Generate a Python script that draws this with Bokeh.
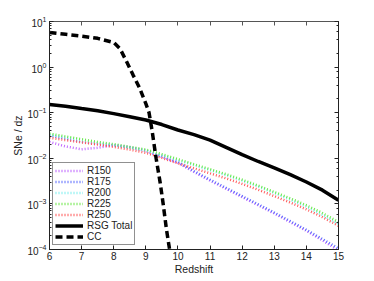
from bokeh.plotting import figure
from bokeh.models import (Range1d, LinearAxis, LogAxis, Legend, LegendItem, FixedTicker,
                          CustomJSTickFormatter)
from bokeh.embed import file_html
from bokeh.resources import INLINE

# ---- data ----
z_r = [6, 6.5, 7, 7.5, 8, 8.5, 9, 9.5, 10, 10.5, 11, 11.5, 12, 12.5, 13, 13.5, 14, 14.5, 15]
r150 = [0.0229, 0.0182, 0.0158, 0.0170, 0.0195, 0.0174, 0.0145, 0.0107, 0.00794, 0.00501,
        0.00324, 0.00214, 0.00141, 0.000933, 0.000617, 0.000398, 0.000257, 0.000158, 0.0000955]
r175 = [0.0316, 0.0269, 0.0229, 0.0209, 0.0195, 0.0174, 0.0148, 0.0112, 0.00832, 0.00525,
        0.00339, 0.00224, 0.00148, 0.000977, 0.000646, 0.000417, 0.000269, 0.000170, 0.000105]
r200 = [0.0331, 0.0288, 0.0251, 0.0219, 0.0195, 0.0170, 0.0148, 0.0117, 0.00912, 0.00708,
        0.00550, 0.00427, 0.00324, 0.00240, 0.00174, 0.00123, 0.000871, 0.000575, 0.000363]
r225 = [0.0347, 0.0302, 0.0263, 0.0229, 0.0204, 0.0178, 0.0155, 0.0123, 0.00955, 0.00741,
        0.00575, 0.00447, 0.00339, 0.00251, 0.00182, 0.00132, 0.000933, 0.000631, 0.000398]
r250 = [0.0282, 0.0251, 0.0224, 0.0200, 0.0178, 0.0155, 0.0132, 0.0102, 0.00776, 0.00603,
        0.00468, 0.00363, 0.00275, 0.00204, 0.00148, 0.00107, 0.000759, 0.000513, 0.000331]

z_rsg = [6, 6.5, 7, 7.5, 8, 8.5, 9, 9.5, 10, 10.5, 11, 11.5, 12, 12.5, 13, 13.5, 14, 14.5, 15]
rsg_total = [0.151, 0.138, 0.123, 0.110, 0.0955, 0.0813, 0.0692, 0.055, 0.0417, 0.0331,
             0.0251, 0.0174, 0.0120, 0.00851, 0.00617, 0.00437, 0.00302, 0.0020, 0.0012]

z_cc = [6, 6.5, 7, 7.5, 8, 8.2, 8.4, 8.6, 8.8, 9.0, 9.1, 9.2, 9.32, 9.45, 9.54, 9.64, 9.74, 9.78]
cc = [5.75, 5.25, 4.79, 4.27, 3.47, 2.51, 1.32, 0.676, 0.355, 0.158, 0.1, 0.038, 0.01,
      0.00282, 0.001, 0.000282, 0.0001, 0.000063]

x_ticks = [6, 7, 8, 9, 10, 11, 12, 13, 14, 15]
series_labels = ["R150", "R175", "R200", "R225", "R250", "RSG Total", "CC"]
r_colors = ["#c066ff", "#5f6fff", "#80f0f0", "#6ee84a", "#ff5a5a"]
x_label = "Redshift"
y_label = "SNe / dz"

FONT = "Liberation Sans"

p = figure(width=372, height=279, output_backend="svg", toolbar_location=None,
           y_axis_type="log", x_range=Range1d(6, 15), y_range=Range1d(1e-4, 10),
           min_border_left=49, min_border_right=34, min_border_top=21, min_border_bottom=30)
p.grid.visible = False
p.outline_line_color = "#222222"
p.outline_line_width = 1
p.background_fill_color = "white"
p.border_fill_color = "white"

renderers = []
for ys, col in zip([r150, r175, r200, r225, r250], r_colors):
    renderers.append(p.line(z_r, ys, line_color=col, line_width=2.5, line_dash="1 2"))
renderers.append(p.line(z_rsg, rsg_total, line_color="black", line_width=3.5))
renderers.append(p.line(z_cc, cc, line_color="black", line_width=3.5, line_dash="7 4"))

# axes styling
for ax in [p.xaxis[0], p.yaxis[0]]:
    ax.major_label_text_font = FONT
    ax.major_label_text_font_size = "10px"
    ax.major_label_text_color = "#222222"
    ax.axis_label_text_font = FONT
    ax.axis_label_text_font_size = "10.5px"
    ax.axis_label_text_font_style = "normal"
    ax.axis_label_text_color = "#222222"
    ax.major_tick_in = 4
    ax.major_tick_out = 0
    ax.minor_tick_in = 2
    ax.minor_tick_out = 0
    ax.axis_line_color = "#222222"
    ax.major_tick_line_color = "#222222"
    ax.minor_tick_line_color = "#222222"
    ax.major_label_standoff = 3
    ax.axis_label_standoff = 0

p.xaxis[0].ticker = FixedTicker(ticks=x_ticks)
p.xaxis[0].minor_tick_line_color = None
p.xaxis[0].major_label_standoff = 2
p.xaxis[0].axis_label = x_label
p.yaxis[0].axis_label = y_label

blank = CustomJSTickFormatter(code="return '';")
top = LinearAxis(ticker=FixedTicker(ticks=x_ticks), formatter=blank,
                 major_tick_in=4, major_tick_out=0, minor_tick_line_color=None,
                 axis_line_color="#555555", major_tick_line_color="#555555", major_label_standoff=0)
p.add_layout(top, "above")
right = LogAxis(formatter=CustomJSTickFormatter(code="return '';"), major_tick_in=4, major_tick_out=0,
                minor_tick_in=2, minor_tick_out=0, axis_line_color="#222222",
                major_tick_line_color="#222222", minor_tick_line_color="#222222",
                major_label_standoff=0)
p.add_layout(right, "right")

legend = Legend(items=[LegendItem(label=l, renderers=[r]) for l, r in zip(series_labels, renderers)],
                location=(3, 4), margin=0, padding=2, spacing=0,
                label_height=11, glyph_height=11, glyph_width=28, label_standoff=4,
                label_text_font=FONT, label_text_font_size="10px", label_text_color="#222222",
                border_line_color="#222222", border_line_width=1, background_fill_alpha=1)
p.add_layout(legend)

open("out.html", "w").write(file_html(p, INLINE))
